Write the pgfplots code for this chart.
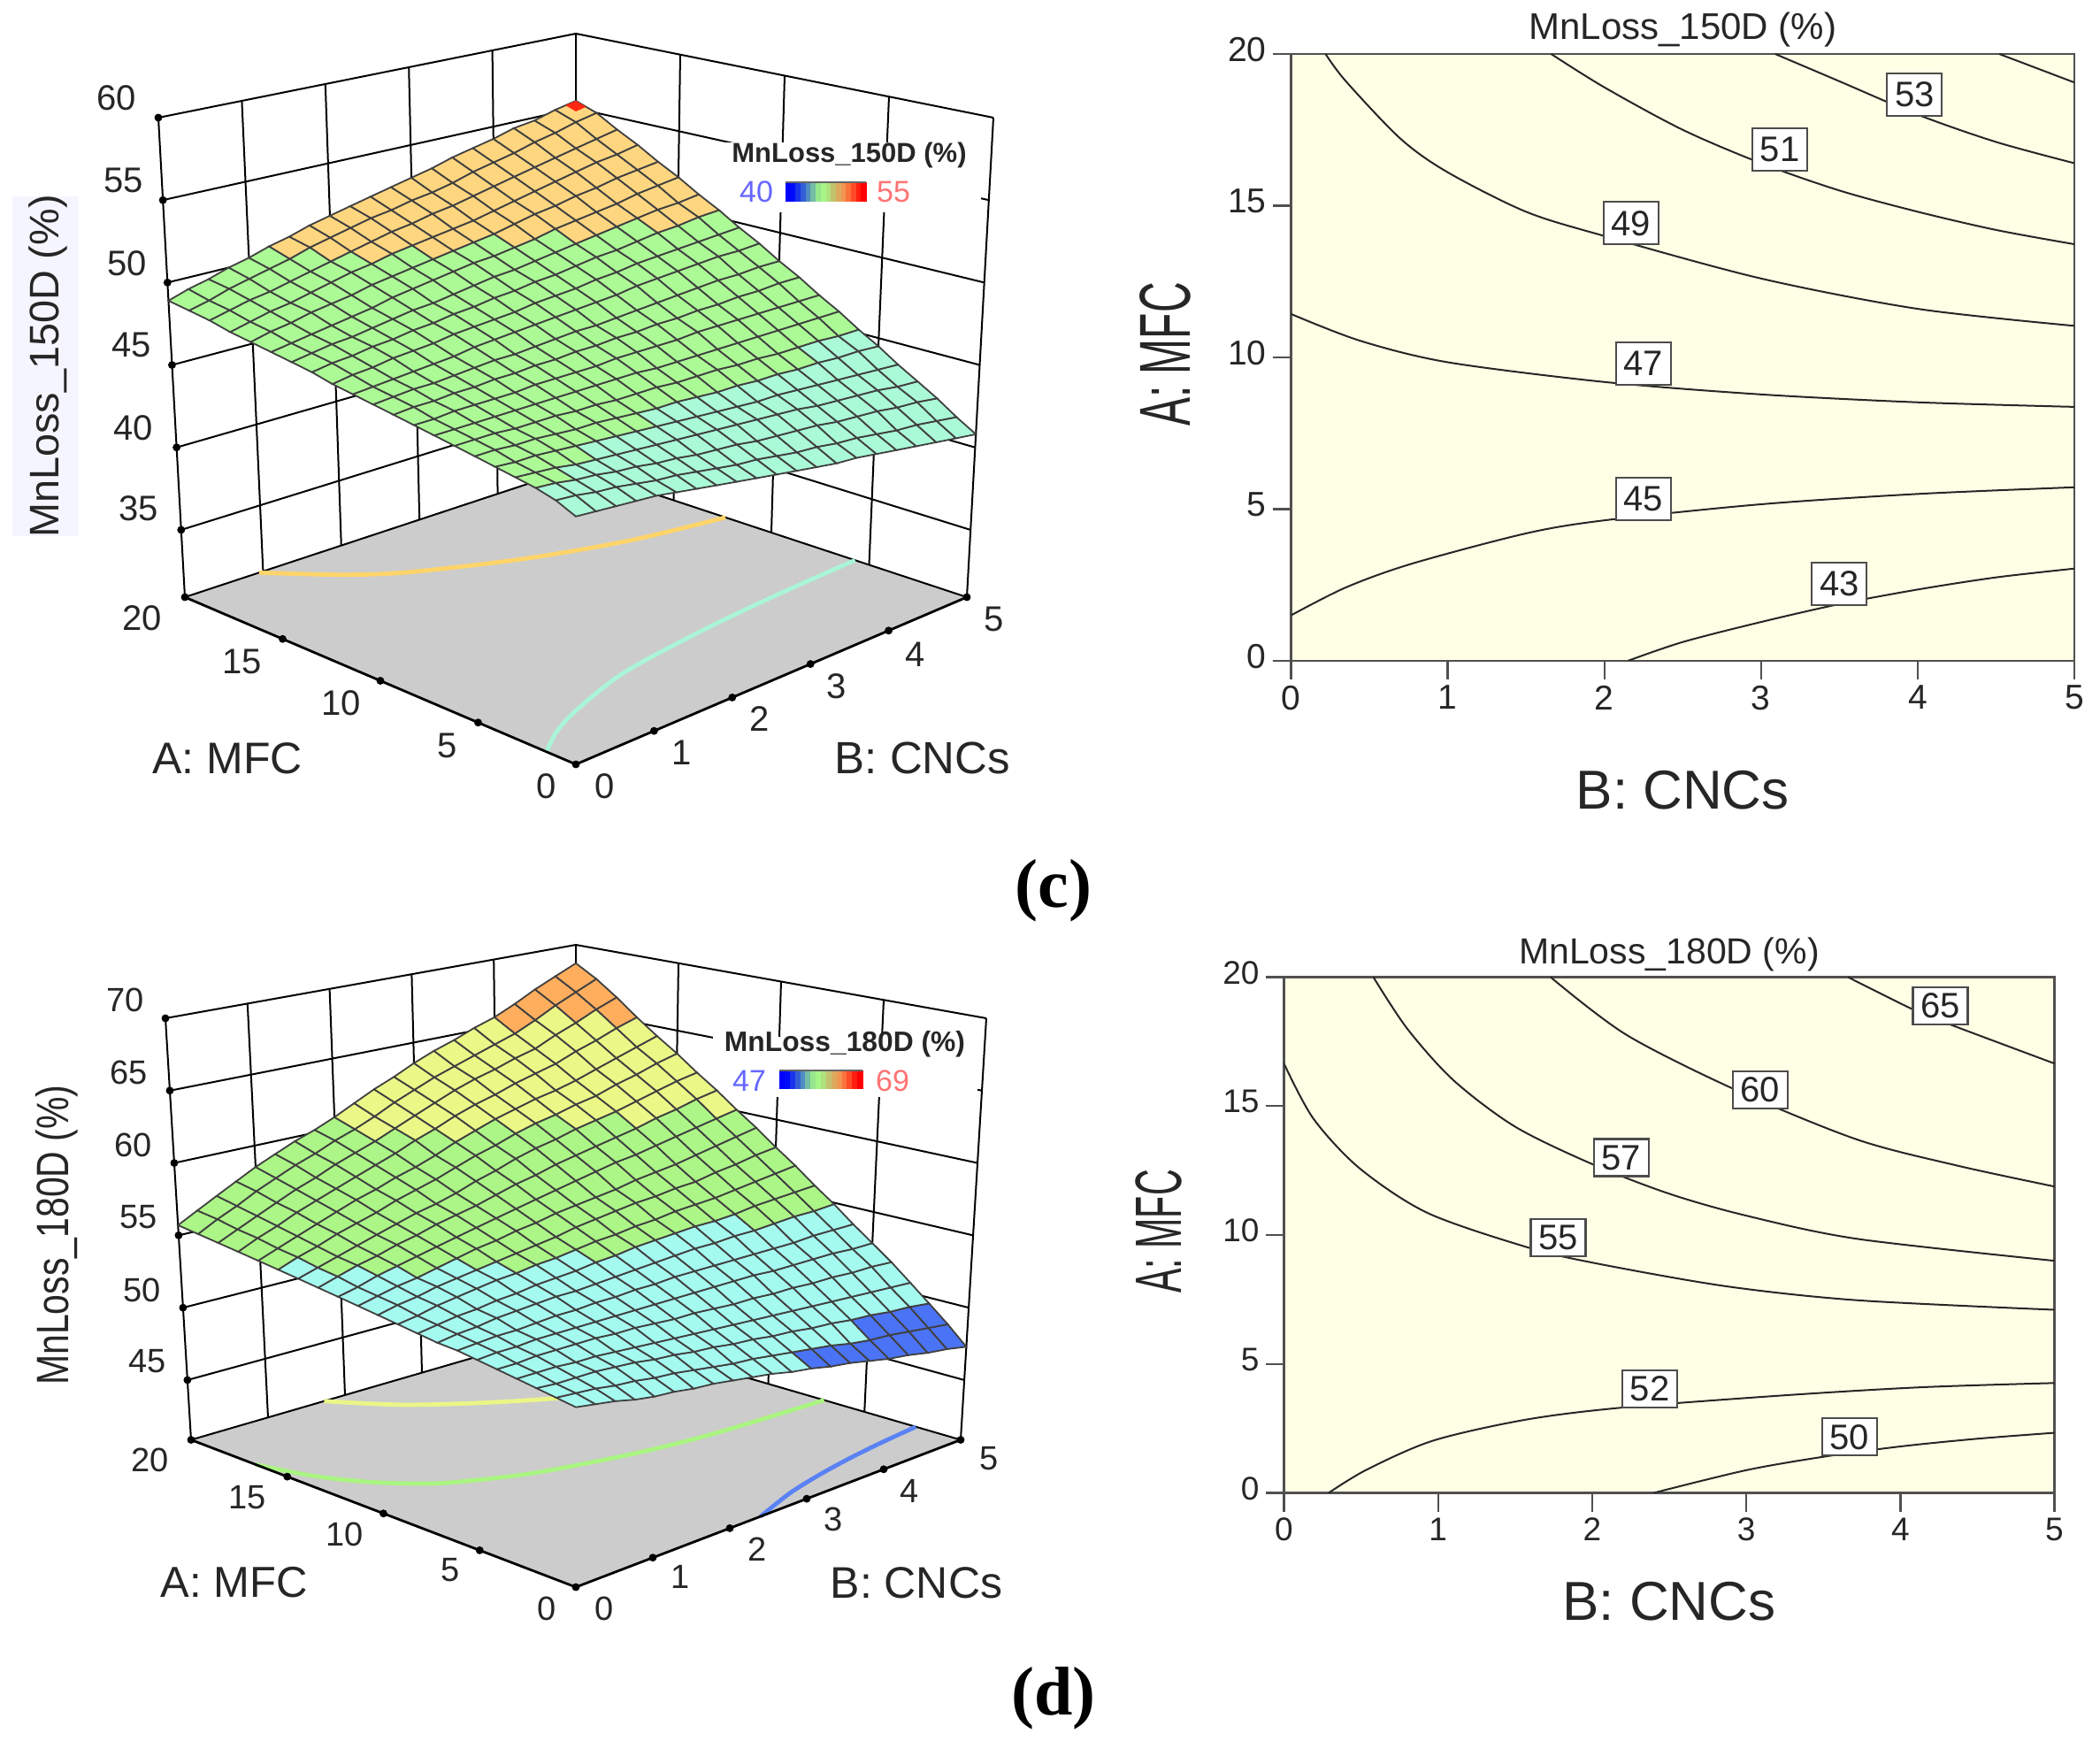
\documentclass[border=0pt]{standalone}
\usepackage{fontspec}
\setmainfont{Liberation Sans}
\newfontfamily\capserif{Liberation Serif}
\usepackage{graphicx}
\usepackage{pgfplots}
\usepackage{pgfplotstable}
\pgfplotsset{compat=1.18}
\newcommand\fs[1]{\fontsize{#1}{#1}\selectfont}
\definecolor{floorgray}{RGB}{204,204,204}
\definecolor{paleyellow}{RGB}{255,255,230}
\definecolor{axisgray}{RGB}{80,80,80}
\definecolor{lineor}{RGB}{255,212,105}
\definecolor{linecy}{RGB}{170,245,215}
\definecolor{linebl}{RGB}{90,130,245}
\definecolor{linegr}{RGB}{170,245,130}
\definecolor{lineye}{RGB}{235,245,135}
\definecolor{tipred}{RGB}{255,40,20}
% legend bar steps
\definecolor{lb0}{RGB}{0,0,255}\definecolor{lb1}{RGB}{0,10,250}\definecolor{lb2}{RGB}{25,50,235}\definecolor{lb3}{RGB}{50,95,215}
\definecolor{lb4}{RGB}{80,140,195}\definecolor{lb5}{RGB}{115,190,165}\definecolor{lb6}{RGB}{150,230,140}\definecolor{lb7}{RGB}{165,245,135}
\definecolor{lb8}{RGB}{175,225,125}\definecolor{lb9}{RGB}{195,195,110}\definecolor{lb10}{RGB}{220,170,95}\definecolor{lb11}{RGB}{240,150,80}
\definecolor{lb12}{RGB}{250,115,60}\definecolor{lb13}{RGB}{255,75,40}\definecolor{lb14}{RGB}{255,30,15}\definecolor{lb15}{RGB}{255,0,0}
\newcommand\legbar[4]{%
  \foreach \i in {0,...,15}{\fill[lb\i] ({(#1+\i*(#2-#1)/16)/2*1pt},{(1977-#3)/2*1pt}) rectangle ({(#1+(\i+1.1)*(#2-#1)/16)/2*1pt},{(1977-#4)/2*1pt});}
  \draw[black!60,line width=1pt] ({#1/2*1pt},{(1977-#3)/2*1pt}) -- ({#2/2*1pt},{(1977-#3)/2*1pt});}

% contours, same numbers for the flat maps and the floor of the 3D views
\pgfplotstableread[row sep=\\]{B A\\2.15 0\\2.5 0.62\\3 1.28\\3.5 1.87\\4 2.35\\4.5 2.75\\5 3.04\\}\cA
\pgfplotstableread[row sep=\\]{B A\\0 1.5\\0.35 2.42\\0.77 3.2\\1.5 4.2\\2 4.63\\3 5.16\\4 5.5\\5 5.72\\}\cB
\pgfplotstableread[row sep=\\]{B A\\0 11.43\\0.44 10.55\\1 9.84\\2 9.19\\3 8.78\\4 8.52\\5 8.37\\}\cC
\pgfplotstableread[row sep=\\]{B A\\0.22 20\\0.35 19.1\\0.7 17.2\\1 16.1\\1.5 14.8\\2 14\\3 12.6\\4 11.6\\5 11.04\\}\cD
\pgfplotstableread[row sep=\\]{B A\\1.66 20\\2 18.9\\2.5 17.5\\3 16.4\\3.5 15.5\\4 14.8\\4.5 14.2\\5 13.73\\}\cE
\pgfplotstableread[row sep=\\]{B A\\3.09 20\\3.5 19.1\\4 18\\4.5 17.1\\5 16.4\\}\cF
\pgfplotstableread[row sep=\\]{B A\\4.52 20\\5 19.06\\}\cG
\pgfplotstableread[row sep=\\]{B A\\0.95 20\\1.5 17.9\\2 16.5\\3 14.6\\4 13.2\\5 12.35\\}\cFifty
\pgfplotstableread[row sep=\\]{B A\\2.4 0\\3 0.88\\3.5 1.4\\4 1.8\\4.5 2.1\\5 2.33\\}\dA
\pgfplotstableread[row sep=\\]{B A\\0.29 0\\0.54 0.91\\0.97 2.03\\1.57 2.84\\2.2 3.31\\3.29 3.8\\4.15 4.1\\5 4.26\\}\dB
\pgfplotstableread[row sep=\\]{B A\\0 16.65\\0.19 14.52\\0.49 12.59\\0.93 10.86\\1.57 9.54\\2 8.93\\2.86 8.02\\3.72 7.47\\5 7.1\\}\dC
\pgfplotstableread[row sep=\\]{B A\\0.58 20\\0.8 18\\1.1 16\\1.5 14.2\\2 12.75\\2.5 11.6\\3 10.75\\3.72 9.85\\5 9\\}\dD
\pgfplotstableread[row sep=\\]{B A\\1.73 20\\2.22 17.77\\2.93 15.63\\3.72 13.7\\4.37 12.69\\5 11.88\\}\dE
\pgfplotstableread[row sep=\\]{B A\\3.66 20\\4.07 18.78\\4.32 18.17\\5 16.65\\}\dF

% wall verticals and back floor edges, W = 0 floor, 1 top
\pgfplotstableread[row sep=\\]{A B W\\
20 0 0\\20 0 1\\nan nan nan\\20 1 0\\20 1 1\\nan nan nan\\20 2 0\\20 2 1\\nan nan nan\\20 3 0\\20 3 1\\nan nan nan\\20 4 0\\20 4 1\\nan nan nan\\20 5 0\\20 5 1\\nan nan nan\\
15 5 0\\15 5 1\\nan nan nan\\10 5 0\\10 5 1\\nan nan nan\\5 5 0\\5 5 1\\nan nan nan\\0 5 0\\0 5 1\\nan nan nan\\
20 0 0\\20 5 0\\0 5 0\\}\walls
\pgfplotstableread[row sep=\\]{A B W\\0 0 0\\20 0 0\\20 5 0\\0 5 0\\}\floorT
\pgfplotstableread[row sep=\\]{A B W\\20 0 0\\0 0 0\\0 5 0\\}\frontT
\pgfplotstableread[row sep=\\]{A B W\\0 0 0\\5 0 0\\10 0 0\\15 0 0\\20 0 0\\0 1 0\\0 2 0\\0 3 0\\0 4 0\\0 5 0\\}\dotsT
\pgfplotstableread[row sep=\\]{A B Z\\19.5 5 55.25\\20 5 55.5\\20 4.875 55.35\\19.5 4.875 55.1\\}\tipc

\pgfplotstableread[row sep=\\]{A B Z\\20 0 35\\20 5 35\\0 5 35\\nan nan nan\\20 0 40\\20 5 40\\0 5 40\\nan nan nan\\20 0 45\\20 5 45\\0 5 45\\nan nan nan\\20 0 50\\20 5 50\\0 5 50\\nan nan nan\\20 0 55\\20 5 55\\0 5 55\\nan nan nan\\20 0 60\\20 5 60\\0 5 60\\}\gridc
\pgfplotstableread[row sep=\\]{A B Z\\20 0 45\\20 5 45\\0 5 45\\nan nan nan\\20 0 50\\20 5 50\\0 5 50\\nan nan nan\\20 0 55\\20 5 55\\0 5 55\\nan nan nan\\20 0 60\\20 5 60\\0 5 60\\nan nan nan\\20 0 65\\20 5 65\\0 5 65\\nan nan nan\\20 0 70\\20 5 70\\0 5 70\\}\gridd
\pgfplotstableread[row sep=\\]{A B Z\\20 0 35\\20 0 40\\20 0 45\\20 0 50\\20 0 55\\20 0 60\\}\zdotc
\pgfplotstableread[row sep=\\]{A B Z\\20 0 45\\20 0 50\\20 0 55\\20 0 60\\20 0 65\\20 0 70\\}\zdotd

% surface values: one line per B = 0, 0.25, ... 5; A = 0 ... 20 along a line
\pgfplotstableread[row sep=\\]{Z\\
44.3\\44.8\\45.1\\45.3\\45.5\\45.7\\45.9\\46.1\\46.3\\46.5\\46.7\\46.9\\47.1\\47.4\\47.6\\47.8\\48.0\\48.2\\48.5\\48.7\\48.9\\
44.2\\44.7\\45.0\\45.2\\45.4\\45.7\\45.9\\46.1\\46.3\\46.6\\46.8\\47.0\\47.3\\47.6\\47.8\\48.0\\48.3\\48.5\\48.8\\49.0\\49.3\\
44.1\\44.5\\44.8\\45.1\\45.4\\45.6\\45.9\\46.1\\46.4\\46.6\\46.9\\47.1\\47.4\\47.7\\48.0\\48.2\\48.5\\48.8\\49.1\\49.4\\49.6\\
44.0\\44.4\\44.7\\44.9\\45.3\\45.6\\45.8\\46.1\\46.4\\46.7\\46.9\\47.2\\47.6\\47.9\\48.1\\48.4\\48.8\\49.0\\49.3\\49.7\\50.0\\
43.9\\44.2\\44.5\\44.8\\45.2\\45.5\\45.8\\46.1\\46.4\\46.7\\47.0\\47.3\\47.7\\48.0\\48.3\\48.6\\49.0\\49.3\\49.6\\50.0\\50.3\\
43.7\\44.0\\44.4\\44.7\\45.1\\45.4\\45.8\\46.1\\46.4\\46.8\\47.1\\47.4\\47.8\\48.2\\48.5\\48.8\\49.2\\49.6\\49.9\\50.3\\50.7\\
43.5\\43.9\\44.2\\44.6\\45.0\\45.4\\45.7\\46.1\\46.5\\46.8\\47.2\\47.6\\48.0\\48.3\\48.7\\49.1\\49.5\\49.9\\50.2\\50.7\\51.0\\
43.3\\43.7\\44.1\\44.5\\44.9\\45.3\\45.7\\46.1\\46.5\\46.9\\47.2\\47.7\\48.1\\48.5\\48.8\\49.3\\49.7\\50.1\\50.5\\51.0\\51.4\\
43.1\\43.5\\43.9\\44.4\\44.8\\45.2\\45.6\\46.1\\46.5\\46.9\\47.3\\47.8\\48.2\\48.6\\49.0\\49.5\\49.9\\50.4\\50.8\\51.3\\51.7\\
42.9\\43.3\\43.8\\44.3\\44.7\\45.1\\45.6\\46.1\\46.5\\47.0\\47.4\\47.9\\48.3\\48.8\\49.2\\49.7\\50.1\\50.6\\51.1\\51.6\\52.0\\
42.7\\43.2\\43.7\\44.2\\44.6\\45.1\\45.6\\46.1\\46.6\\47.0\\47.5\\48.0\\48.5\\48.9\\49.4\\49.9\\50.3\\50.8\\51.3\\51.8\\52.3\\
42.5\\43.0\\43.5\\44.1\\44.5\\45.0\\45.5\\46.0\\46.6\\47.1\\47.5\\48.1\\48.6\\49.1\\49.5\\50.0\\50.5\\51.0\\51.6\\52.1\\52.6\\
42.3\\42.8\\43.4\\44.0\\44.4\\44.9\\45.5\\46.0\\46.6\\47.1\\47.6\\48.2\\48.7\\49.2\\49.7\\50.2\\50.7\\51.2\\51.8\\52.3\\52.9\\
42.1\\42.7\\43.3\\43.9\\44.3\\44.9\\45.5\\46.0\\46.6\\47.2\\47.7\\48.3\\48.9\\49.4\\49.9\\50.4\\51.0\\51.5\\52.1\\52.6\\53.2\\
42.0\\42.5\\43.2\\43.8\\44.3\\44.8\\45.4\\46.0\\46.7\\47.2\\47.8\\48.5\\49.0\\49.6\\50.1\\50.7\\51.3\\51.8\\52.4\\53.0\\53.6\\
41.8\\42.4\\43.0\\43.6\\44.2\\44.8\\45.4\\46.0\\46.7\\47.3\\47.9\\48.6\\49.2\\49.7\\50.3\\50.9\\51.5\\52.1\\52.7\\53.3\\53.9\\
41.6\\42.2\\42.9\\43.5\\44.1\\44.7\\45.3\\46.0\\46.7\\47.3\\48.0\\48.7\\49.3\\49.9\\50.5\\51.1\\51.8\\52.4\\53.0\\53.6\\54.2\\
41.4\\42.0\\42.8\\43.4\\44.0\\44.7\\45.3\\46.0\\46.7\\47.4\\48.1\\48.8\\49.4\\50.1\\50.7\\51.3\\52.0\\52.7\\53.3\\54.0\\54.6\\
41.2\\41.9\\42.6\\43.3\\43.9\\44.6\\45.3\\46.0\\46.7\\47.4\\48.1\\48.9\\49.5\\50.2\\50.9\\51.6\\52.3\\53.0\\53.6\\54.3\\54.8\\
41.0\\41.7\\42.5\\43.1\\43.8\\44.6\\45.2\\46.0\\46.7\\47.5\\48.2\\48.9\\49.6\\50.4\\51.0\\51.8\\52.5\\53.2\\53.9\\54.7\\55.2\\
40.8\\41.5\\42.3\\43.0\\43.7\\44.5\\45.2\\46.0\\46.7\\47.5\\48.2\\49.0\\49.7\\50.5\\51.2\\52.0\\52.7\\53.5\\54.2\\55.0\\55.5\\
}\surfc
\pgfplotstableread[row sep=\\]{Z\\
51.8\\52.0\\52.2\\52.4\\52.6\\52.8\\53.0\\53.1\\53.3\\53.5\\53.7\\53.9\\54.1\\54.3\\54.5\\54.7\\54.9\\55.1\\55.3\\55.5\\55.7\\
51.6\\51.9\\52.1\\52.4\\52.6\\52.9\\53.1\\53.3\\53.5\\53.7\\54.0\\54.2\\54.4\\54.7\\54.9\\55.2\\55.4\\55.7\\55.9\\56.2\\56.4\\
51.4\\51.8\\52.1\\52.4\\52.7\\52.9\\53.2\\53.4\\53.7\\54.0\\54.2\\54.5\\54.8\\55.1\\55.3\\55.6\\55.9\\56.2\\56.5\\56.8\\57.1\\
51.1\\51.6\\52.1\\52.3\\52.7\\53.0\\53.2\\53.6\\53.8\\54.2\\54.5\\54.7\\55.1\\55.4\\55.7\\56.1\\56.4\\56.8\\57.1\\57.5\\57.8\\
50.9\\51.5\\52.0\\52.3\\52.7\\53.0\\53.3\\53.7\\54.0\\54.4\\54.7\\55.0\\55.4\\55.8\\56.1\\56.5\\56.9\\57.3\\57.7\\58.1\\58.5\\
50.8\\51.3\\51.9\\52.2\\52.7\\53.0\\53.4\\53.8\\54.1\\54.6\\54.9\\55.3\\55.7\\56.1\\56.5\\56.9\\57.4\\57.8\\58.2\\58.7\\59.1\\
50.6\\51.2\\51.7\\52.1\\52.6\\53.0\\53.4\\53.9\\54.3\\54.7\\55.1\\55.6\\56.0\\56.5\\56.9\\57.4\\57.8\\58.3\\58.8\\59.2\\59.7\\
50.5\\51.0\\51.6\\52.0\\52.6\\53.0\\53.5\\53.9\\54.4\\54.9\\55.3\\55.8\\56.3\\56.8\\57.2\\57.8\\58.3\\58.8\\59.3\\59.8\\60.2\\
50.3\\50.8\\51.4\\51.9\\52.5\\53.0\\53.5\\54.0\\54.5\\55.0\\55.5\\56.1\\56.6\\57.1\\57.6\\58.2\\58.7\\59.3\\59.8\\60.3\\60.8\\
50.1\\50.6\\51.3\\51.8\\52.4\\53.0\\53.6\\54.1\\54.7\\55.2\\55.7\\56.3\\56.9\\57.5\\58.1\\58.7\\59.2\\59.9\\60.4\\60.9\\61.5\\
49.9\\50.5\\51.1\\51.7\\52.4\\53.0\\53.6\\54.2\\54.8\\55.4\\56.0\\56.6\\57.2\\57.9\\58.5\\59.2\\59.8\\60.4\\61.0\\61.6\\62.2\\
49.6\\50.3\\51.0\\51.6\\52.3\\53.0\\53.7\\54.3\\55.0\\55.5\\56.2\\56.8\\57.5\\58.2\\59.0\\59.6\\60.3\\61.0\\61.6\\62.2\\62.8\\
49.4\\50.1\\50.8\\51.5\\52.2\\53.0\\53.7\\54.4\\55.1\\55.7\\56.4\\57.0\\57.8\\58.6\\59.4\\60.1\\60.8\\61.5\\62.2\\62.8\\63.5\\
49.1\\49.9\\50.7\\51.4\\52.2\\53.0\\53.7\\54.5\\55.2\\55.8\\56.6\\57.2\\58.1\\58.9\\59.7\\60.5\\61.2\\61.9\\62.7\\63.3\\64.1\\
48.9\\49.7\\50.5\\51.3\\52.1\\53.0\\53.7\\54.5\\55.3\\56.0\\56.7\\57.5\\58.4\\59.2\\60.1\\60.8\\61.6\\62.4\\63.1\\63.8\\64.6\\
48.6\\49.4\\50.4\\51.2\\52.1\\52.9\\53.7\\54.6\\55.3\\56.1\\56.9\\57.7\\58.6\\59.5\\60.4\\61.2\\61.9\\62.8\\63.6\\64.3\\65.2\\
48.3\\49.2\\50.2\\51.1\\52.0\\52.9\\53.7\\54.6\\55.4\\56.2\\57.0\\57.9\\58.9\\59.8\\60.7\\61.5\\62.3\\63.2\\64.0\\64.8\\65.7\\
48.1\\49.1\\50.1\\51.0\\52.0\\52.9\\53.7\\54.7\\55.6\\56.4\\57.3\\58.2\\59.2\\60.2\\61.1\\62.0\\62.8\\63.8\\64.7\\65.5\\66.4\\
47.8\\48.9\\49.9\\50.9\\51.9\\52.9\\53.8\\54.8\\55.7\\56.6\\57.5\\58.5\\59.5\\60.5\\61.5\\62.4\\63.3\\64.3\\65.3\\66.3\\67.2\\
47.6\\48.7\\49.8\\50.8\\51.9\\52.8\\53.8\\54.8\\55.8\\56.8\\57.8\\58.8\\59.8\\60.9\\61.9\\62.9\\63.8\\64.9\\66.0\\67.0\\67.9\\
47.3\\48.5\\49.6\\50.7\\51.8\\52.8\\53.8\\54.9\\55.9\\57.0\\58.0\\59.1\\60.1\\61.2\\62.2\\63.3\\64.3\\65.4\\66.6\\67.7\\68.6\\
}\surfd

% projections of (A,B,Z) onto the page, in reference pixels
\newcommand\Xz{projx(\thisrow{A}/20,\thisrow{B}/5,wlev(\thisrow{Z}))}
\newcommand\Yz{projy(\thisrow{A}/20,\thisrow{B}/5,wlev(\thisrow{Z}))}
\newcommand\Xw{projx(\thisrow{A}/20,\thisrow{B}/5,\thisrow{W})}
\newcommand\Yw{projy(\thisrow{A}/20,\thisrow{B}/5,\thisrow{W})}
\newcommand\Xf{projx(\thisrow{A}/20,\thisrow{B}/5,0)}
\newcommand\Yf{projy(\thisrow{A}/20,\thisrow{B}/5,0)}
\newcommand\Xs{projx(mod(\coordindex,21)/20,floor((\coordindex+0.5)/21)/20,wlev(\thisrow{Z}))}
\newcommand\Ys{projy(mod(\coordindex,21)/20,floor((\coordindex+0.5)/21)/20,wlev(\thisrow{Z}))}

\pgfplotsset{
  canvas/.style={hide axis,scale only axis,width=1187pt,height=988.5pt,at={(0pt,0pt)},anchor=south west,
    xmin=0,xmax=2374,ymin=0,ymax=1977,y dir=reverse,enlargelimits=false,clip=false,unbounded coords=jump},
  wall/.style={black,line width=1pt},
  surfstyle/.style={surf,mesh/rows=21,mesh/cols=21,shader=faceted,faceted color=black!75,line width=0.9pt,point meta=\thisrow{Z}},
  map/.style={scale only axis,xmin=0,xmax=5,ymin=0,ymax=20,xtick={0,1,2,3,4,5},ytick={0,5,10,15,20},
    tick align=outside,major tick length=10.5pt,axis background/.style={fill=paleyellow},
    axis line style={axisgray,line width=1.2pt},tick style={axisgray,line width=1.2pt},
    every axis title shift=0pt,
    /pgf/number format/assume math mode=true,xtick pos=bottom,ytick pos=left},
  cont/.style={black!85,line width=1pt,smooth,no marks},
}
\tikzset{lab/.style={draw=black!70,line width=1.1pt,fill=white,inner sep=0pt,text=black!85,font=\fs{20}}}

\begin{document}
\begin{tikzpicture}
\path[use as bounding box] (0pt,0pt) rectangle (1187pt,988.5pt);

\begin{axis}[canvas,
  declare function={projx(\u,\v,\w)=651+(\v-\u)*(442+30*\w);
    projy(\u,\v,\w)=(864-189*(\u+\v)+43*\u*\v)*(1-\w)+(255-122*(\u+\v)+27*\u*\v)*\w;
    wlev(\z)=(\z-30.92)/29.08;},
  colormap={bandc}{rgb255=(170,250,215) rgb255=(172,250,150) rgb255=(255,214,128)},
  colormap access=piecewise constant,point meta min=39.6,point meta max=55.8]
\fill[blue!4] (axis cs:14,222) rectangle (axis cs:89,606);
\addplot[fill=floorgray,draw=none] table[x expr=\Xw,y expr=\Yw]{\floorT};
\addplot[wall] table[x expr=\Xw,y expr=\Yw]{\walls};
\addplot[wall] table[x expr=\Xz,y expr=\Yz]{\gridc};
\addplot[lineor,line width=2.4pt,smooth] table[x expr=\Xf,y expr=\Yf]{\cFifty};
\addplot[linecy,line width=2.4pt,smooth] table[x expr=\Xf,y expr=\Yf]{\cB};
\addplot[black,line width=1.4pt] table[x expr=\Xw,y expr=\Yw]{\frontT};
\addplot[black,only marks,mark=*,mark size=2pt] table[x expr=\Xw,y expr=\Yw]{\dotsT};
\addplot[black,only marks,mark=*,mark size=2pt] table[x expr=\Xz,y expr=\Yz]{\zdotc};
\fill[white] (axis cs:806,161) rectangle (axis cs:1109,240);
\addplot[surfstyle] table[x index=0,y index=0,x expr=\Xs,y expr=\Ys]{\surfc};
\addplot[fill=tipred,draw=none] table[x expr=\Xz,y expr=\Yz]{\tipc};
\node[font=\fs{15.5}\bfseries,text=black!85] at (axis cs:960,175) {MnLoss\_150D (\%)};
\node[font=\fs{17},text=blue!60] at (axis cs:855,217) {40};
\node[font=\fs{17},text=red!55] at (axis cs:1010,217) {55};
\node[font=\fs{20},text=black!85] at (axis cs:132,111) {60};
\node[font=\fs{20},text=black!85] at (axis cs:140,204) {55};
\node[font=\fs{20},text=black!85] at (axis cs:144,298) {50};
\node[font=\fs{20},text=black!85] at (axis cs:149,390) {45};
\node[font=\fs{20},text=black!85] at (axis cs:151,484) {40};
\node[font=\fs{20},text=black!85] at (axis cs:157,575) {35};
\node[font=\fs{20},text=black!85] at (axis cs:161,699) {20};
\node[font=\fs{20},text=black!85] at (axis cs:274,748) {15};
\node[font=\fs{20},text=black!85] at (axis cs:386,795) {10};
\node[font=\fs{20},text=black!85] at (axis cs:506,843) {5};
\node[font=\fs{20},text=black!85] at (axis cs:618,889) {0};
\node[font=\fs{20},text=black!85] at (axis cs:684,889) {0};
\node[font=\fs{20},text=black!85] at (axis cs:771,851) {1};
\node[font=\fs{20},text=black!85] at (axis cs:859,813) {2};
\node[font=\fs{20},text=black!85] at (axis cs:946,776) {3};
\node[font=\fs{20},text=black!85] at (axis cs:1035,740) {4};
\node[font=\fs{20},text=black!85] at (axis cs:1124,700) {5};
\node[font=\fs{25},text=black!85] at (axis cs:257,857) {A: MFC};
\node[font=\fs{25.5},text=black!85] at (axis cs:1043,857) {B: CNCs};
\node[font=\fs{23.4},text=black!85,rotate=90] at (axis cs:54,414) {MnLoss\_150D (\%)};
\node[font=\fs{39}\capserif\bfseries] at (axis cs:1191,1007) {(c)};
\end{axis}

\begin{axis}[canvas,
  declare function={projx(\u,\v,\w)=651+(\v-\u)*(435+29*\w);
    projy(\u,\v,\w)=(1794-166.5*(\u+\v)+40*\u*\v)*(1-\w)+(1252-101*(\u+\v)+18*\u*\v)*\w;
    wlev(\z)=(\z-40.87)/29.13;},
  colormap={bandd}{rgb255=(75,115,245) rgb255=(165,250,240) rgb255=(172,245,135) rgb255=(235,248,135) rgb255=(255,174,94)},
  colormap access=piecewise constant,point meta min=44.4,point meta max=70.9]
\addplot[fill=floorgray,draw=none] table[x expr=\Xw,y expr=\Yw]{\floorT};
\addplot[wall] table[x expr=\Xw,y expr=\Yw]{\walls};
\addplot[wall] table[x expr=\Xz,y expr=\Yz]{\gridd};
\addplot[lineye,line width=2.4pt,smooth] table[x expr=\Xf,y expr=\Yf]{\dE};
\addplot[linegr,line width=2.4pt,smooth] table[x expr=\Xf,y expr=\Yf]{\dC};
\addplot[linebl,line width=2.4pt,smooth] table[x expr=\Xf,y expr=\Yf]{\dA};
\addplot[black,line width=1.4pt] table[x expr=\Xw,y expr=\Yw]{\frontT};
\addplot[black,only marks,mark=*,mark size=2pt] table[x expr=\Xw,y expr=\Yw]{\dotsT};
\addplot[black,only marks,mark=*,mark size=2pt] table[x expr=\Xz,y expr=\Yz]{\zdotd};
\fill[white] (axis cs:806,1172) rectangle (axis cs:1105,1240);
\addplot[surfstyle] table[x index=0,y index=0,x expr=\Xs,y expr=\Ys]{\surfd};
\node[font=\fs{15.9}\bfseries,text=black!85] at (axis cs:955,1180) {MnLoss\_180D (\%)};
\node[font=\fs{17},text=blue!60] at (axis cs:847,1222) {47};
\node[font=\fs{17},text=red!55] at (axis cs:1009,1222) {69};
\node[font=\fs{19},text=black!85] at (axis cs:142,1130) {70};
\node[font=\fs{19},text=black!85] at (axis cs:146,1212) {65};
\node[font=\fs{19},text=black!85] at (axis cs:151,1294) {60};
\node[font=\fs{19},text=black!85] at (axis cs:157,1376) {55};
\node[font=\fs{19},text=black!85] at (axis cs:161,1458) {50};
\node[font=\fs{19},text=black!85] at (axis cs:167,1539) {45};
\node[font=\fs{19},text=black!85] at (axis cs:170,1650) {20};
\node[font=\fs{19},text=black!85] at (axis cs:280,1693) {15};
\node[font=\fs{19},text=black!85] at (axis cs:390,1734) {10};
\node[font=\fs{19},text=black!85] at (axis cs:509,1775) {5};
\node[font=\fs{19},text=black!85] at (axis cs:618,1818) {0};
\node[font=\fs{19},text=black!85] at (axis cs:683,1818) {0};
\node[font=\fs{19},text=black!85] at (axis cs:769,1782) {1};
\node[font=\fs{19},text=black!85] at (axis cs:856,1751) {2};
\node[font=\fs{19},text=black!85] at (axis cs:942,1717) {3};
\node[font=\fs{19},text=black!85] at (axis cs:1028,1685) {4};
\node[font=\fs{19},text=black!85] at (axis cs:1118,1649) {5};
\node[font=\fs{24.5},text=black!85] at (axis cs:265,1789) {A: MFC};
\node[font=\fs{25},text=black!85] at (axis cs:1036,1789) {B: CNCs};
\node[font=\fs{20.5},text=black!85,rotate=90] at (axis cs:64,1396) {\scalebox{1}[1.25]{MnLoss\_180D (\%)}};
\node[font=\fs{39}\capserif\bfseries] at (axis cs:1191,1920) {(d)};
\end{axis}

\begin{axis}[map,width=442.75pt,height=343pt,at={(729.75pt,615pt)},anchor=south west,
  tick label style={font=\fs{19.5},text=black!85},yticklabel style={yshift=2.5pt},
  title={MnLoss\_150D (\%)},title style={at={(axis description cs:0.5,1.04)},anchor=center,font=\fs{21},text=black!85},
  xlabel={B: CNCs},xlabel style={at={(axis description cs:0.5,-0.213)},anchor=center,font=\fs{31},text=black!85},
  ylabel={\scalebox{1}[1.7]{A: MFC}},ylabel style={at={(axis description cs:-0.161,0.505)},anchor=center,font=\fs{24},text=black!85}]
\addplot[cont] table[x=B,y=A]{\cA};
\addplot[cont] table[x=B,y=A]{\cB};
\addplot[cont] table[x=B,y=A]{\cC};
\addplot[cont] table[x=B,y=A]{\cD};
\addplot[cont] table[x=B,y=A]{\cE};
\addplot[cont] table[x=B,y=A]{\cF};
\addplot[cont] table[x=B,y=A]{\cG};
\node[lab,minimum width=31pt,minimum height=24pt] at (axis cs:3.98,18.67) {53};
\node[lab,minimum width=31pt,minimum height=24pt] at (axis cs:3.12,16.85) {51};
\node[lab,minimum width=31pt,minimum height=24pt] at (axis cs:2.17,14.42) {49};
\node[lab,minimum width=31pt,minimum height=24pt] at (axis cs:2.25,9.8) {47};
\node[lab,minimum width=31pt,minimum height=24pt] at (axis cs:2.25,5.34) {45};
\node[lab,minimum width=31pt,minimum height=24pt] at (axis cs:3.5,2.54) {43};
\end{axis}

\begin{axis}[map,width=435.5pt,height=291.5pt,at={(725.75pt,144.75pt)},anchor=south west,
  tick label style={font=\fs{18.5},text=black!85},yticklabel style={yshift=2.5pt},
  title={MnLoss\_180D (\%)},title style={at={(axis description cs:0.5,1.044)},anchor=center,font=\fs{20.5},text=black!85},
  xlabel={B: CNCs},xlabel style={at={(axis description cs:0.5,-0.21)},anchor=center,font=\fs{31},text=black!85},
  ylabel={\scalebox{1}[1.8]{A: MFC}},ylabel style={at={(axis description cs:-0.1625,0.507)},anchor=center,font=\fs{20.6},text=black!85}]
\addplot[cont] table[x=B,y=A]{\dA};
\addplot[cont] table[x=B,y=A]{\dB};
\addplot[cont] table[x=B,y=A]{\dC};
\addplot[cont] table[x=B,y=A]{\dD};
\addplot[cont] table[x=B,y=A]{\dE};
\addplot[cont] table[x=B,y=A]{\dF};
\node[lab,minimum width=31pt,minimum height=21pt] at (axis cs:4.26,18.88) {65};
\node[lab,minimum width=31pt,minimum height=21pt] at (axis cs:3.09,15.63) {60};
\node[lab,minimum width=31pt,minimum height=21pt] at (axis cs:2.19,13) {57};
\node[lab,minimum width=31pt,minimum height=21pt] at (axis cs:1.78,9.91) {55};
\node[lab,minimum width=31pt,minimum height=21pt] at (axis cs:2.375,4.04) {52};
\node[lab,minimum width=31pt,minimum height=21pt] at (axis cs:3.67,2.17) {50};
\end{axis}

\legbar{888}{979}{206}{228}
\legbar{881}{975}{1210}{1231}
\end{tikzpicture}
\end{document}
